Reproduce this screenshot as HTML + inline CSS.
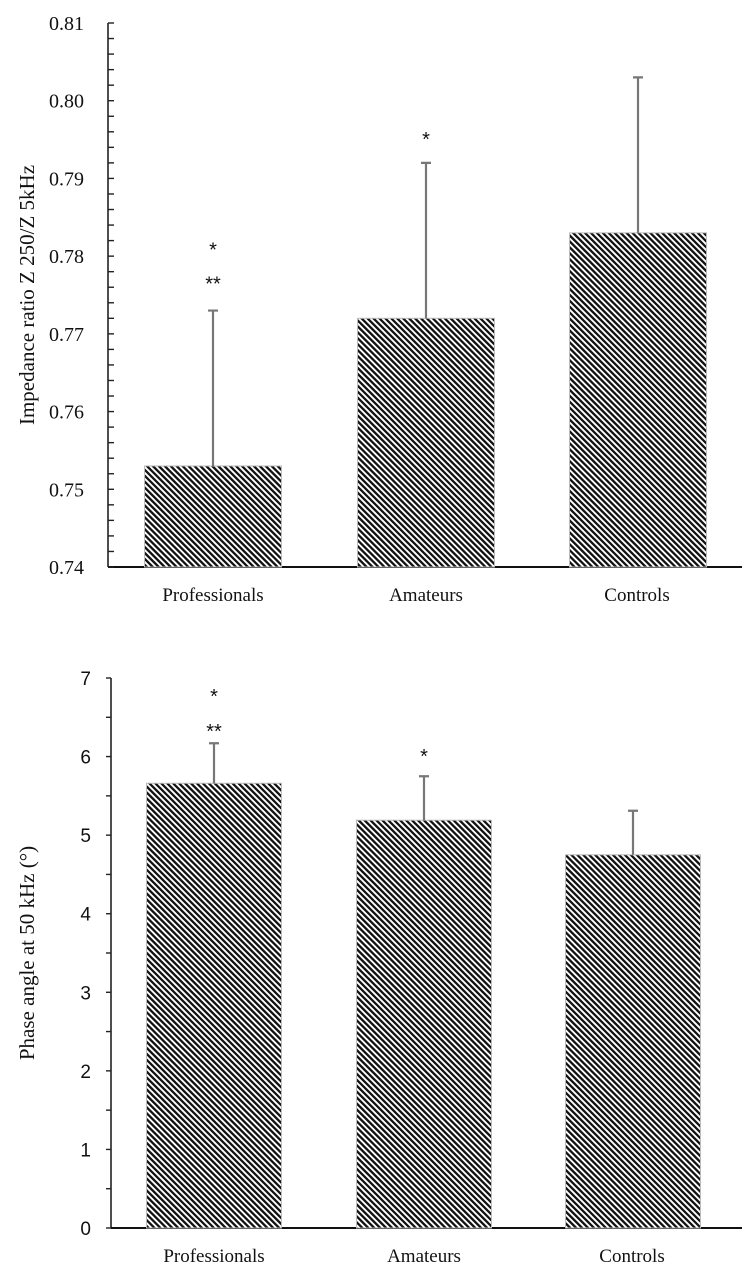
<!DOCTYPE html>
<html><head><meta charset="utf-8"><style>
body{margin:0;background:#fff}
svg{display:block}
.serif{font-family:"Liberation Serif",serif}
.sans{font-family:"Liberation Sans",sans-serif}
</style></head><body>
<svg id="c" width="754" height="1279">
<defs>
<pattern id="hatch" patternUnits="userSpaceOnUse" width="4.2" height="4.2" patternTransform="rotate(-45)">
<rect width="4.2" height="4.2" fill="#fff"/>
<rect x="0" y="0" width="2.3" height="4.2" fill="#111"/>
</pattern>
</defs>
</svg>
<script>
const NS="http://www.w3.org/2000/svg";
const svg=document.getElementById('c');
const cats=["Professionals","Amateurs","Controls"];
const topVals=[0.753,0.772,0.783];
const topErr=[0.773,0.792,0.803];
const topTicks=["0.74","0.75","0.76","0.77","0.78","0.79","0.80","0.81"];
const topStars=[["*","**"],["*"],[]];
const botVals=[5.66,5.19,4.75];
const botErr=[6.17,5.75,5.31];
const botTicks=["0","1","2","3","4","5","6","7"];
const botStars=[["*","**"],["*"],[]];
function el(t,a,p){const e=document.createElementNS(NS,t);for(const k in a)e.setAttribute(k,a[k]);(p||svg).appendChild(e);return e;}
function chart(o){
 const g=el('g',{});
 
 
 const y=v=>o.y0+(v-o.min)/(o.max-o.min)*(o.y1-o.y0);
 const ax=el('line',{x1:o.ax,y1:o.y1,x2:o.ax,y2:o.y0,stroke:'#222','stroke-width':1.6},g);
 
 const xa=el('line',{x1:o.ax,y1:o.y0,x2:742,y2:o.y0,stroke:'#111','stroke-width':2},g);
 
 const nMin=o.minor;
 for(let i=0;i<o.ticks.length;i++){
  const v=o.min+i*o.step, yy=y(v);
  el('line',{x1:o.ax+(o.inside?0:-5),y1:yy,x2:o.ax+(o.inside?6:0),y2:yy,stroke:'#222','stroke-width':1.4},g);
  const t=el('text',{x:o.ax-o.lblGap,y:yy+o.lblDy,'text-anchor':'end','font-size':o.lblSize,class:o.tickFont,fill:'#111'},g);
  t.textContent=o.ticks[i];
  
  if(i<o.ticks.length-1)for(let k=1;k<nMin;k++){const ym=y(v+o.step*k/nMin);
   el('line',{x1:o.ax+(o.inside?0:-5),y1:ym,x2:o.ax+(o.inside?6:0),y2:ym,stroke:'#222','stroke-width':1.4},g);}
 }
 for(let i=0;i<o.vals.length;i++){
  const cx=o.cx[i], w=o.w;
  const r=el('rect',{x:cx-w/2,y:y(o.vals[i]),width:w,height:o.y0-y(o.vals[i]),fill:'url(#hatch)',stroke:'#bbb','stroke-width':1},g);
  
  const e=el('path',{d:`M${cx},${y(o.vals[i])}V${y(o.err[i])}M${cx-5},${y(o.err[i])}H${cx+5}`,stroke:'#777','stroke-width':2.2,fill:'none'},g);
  
  const lb=el('text',{x:o.lx[i],y:o.y0+34,'text-anchor':'middle','font-size':19,class:'serif',fill:'#111'},g);
  lb.textContent=cats[i];
  const st=o.stars[i];
  for(let j=0;j<st.length;j++){
   const s=el('text',{x:cx,y:y(o.err[i])-o.starOff[st.length-1][j],'text-anchor':'middle','font-size':20,class:'sans',fill:'#111'},g);
   s.textContent=st[j];
  }
 }
 const tt=el('text',{transform:`translate(${o.titleX},${(o.y0+o.y1)/2}) rotate(-90)`,'text-anchor':'middle','font-size':21,class:'serif',fill:'#111'},g);
 tt.textContent=o.title;
}
chart({name:'impedance-chart',ax:108,y0:567,y1:23,min:0.74,max:0.81,step:0.01,minor:5,inside:true,ticks:topTicks,lblGap:24,lblDy:7,lblSize:20,tickFont:'serif',
 vals:topVals,err:topErr,cx:[213,426,638],lx:[213,426,637],w:137,stars:topStars,starOff:[[17],[54,20]],titleX:34,title:'Impedance ratio Z 250/Z 5kHz'});
chart({name:'phase-angle-chart',ax:111,y0:1228,y1:678,min:0,max:7,step:1,minor:2,inside:false,ticks:botTicks,lblGap:20,lblDy:7,lblSize:19,tickFont:'sans',
 vals:botVals,err:botErr,cx:[214,424,633],lx:[214,424,632],w:135,stars:botStars,starOff:[[13],[40,5]],titleX:34,title:'Phase angle at 50 kHz (°)'});
</script>
</body></html>
